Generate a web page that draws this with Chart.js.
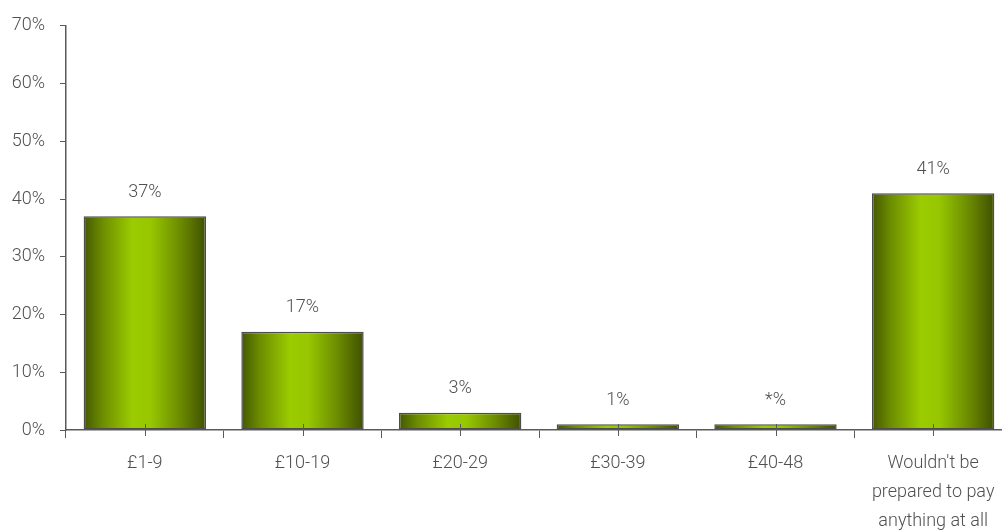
<!DOCTYPE html>
<html>
<head>
<meta charset="utf-8">
<script src="https://cdn.jsdelivr.net/npm/chart.js@4"></script>
<style>
  html, body { margin: 0; padding: 0; background: #fff; overflow: hidden; }
  #wrap { position: relative; width: 1012px; height: 532px; }
</style>
</head>
<body>
<div id="wrap"><canvas id="chart-canvas"></canvas></div>
<script>
// Importe dispuesto a pagar
const categories = ['£1-9', '£10-19', '£20-29', '£30-39', '£40-48', ["Wouldn't be", 'prepared to pay', 'anything at all']];
const values = [37, 17, 3, 1, 1, 41];
const valueLabels = ['37%', '17%', '3%', '1%', '*%', '41%'];
const yTicks = [0, 10, 20, 30, 40, 50, 60, 70];

const FONT = "Roboto, 'DejaVu Sans Condensed', sans-serif";
const AXIS = '#5a5a5a';
const TEXT = '#505050';
const BAR_PCT = 0.776;

// Degradado horizontal de cada barra: oscuro en los bordes, verde vivo en el centro
function barGradient(context) {
  const chart = context.chart;
  const x = chart.scales.x;
  if (!x || !chart.chartArea) return '#8fbf00';
  const cx = x.getPixelForValue(context.dataIndex);
  const w = (x.width / categories.length) * BAR_PCT;
  const g = chart.ctx.createLinearGradient(cx - w / 2, 0, cx + w / 2, 0);
  g.addColorStop(0, '#445800');
  g.addColorStop(0.15, '#6c8c00');
  g.addColorStop(0.4, '#9bcc00');
  g.addColorStop(0.55, '#96c700');
  g.addColorStop(0.8, '#6a8800');
  g.addColorStop(1, '#3f5000');
  return g;
}

// Etiquetas de valor encima de las barras y marcas centrales del eje X
const extras = {
  id: 'extras',
  afterDatasetsDraw(chart) {
    const ctx = chart.ctx;
    const meta = chart.getDatasetMeta(0);
    const y0 = chart.scales.y.getPixelForValue(0);
    ctx.save();
    ctx.font = '300 18px ' + FONT;
    ctx.fillStyle = TEXT;
    ctx.textAlign = 'center';
    ctx.textBaseline = 'middle';
    meta.data.forEach((bar, i) => {
      ctx.fillText(valueLabels[i], bar.x, bar.y - 24);
    });
    ctx.strokeStyle = AXIS;
    ctx.lineWidth = 1;
    meta.data.forEach(bar => {
      const px = Math.round(bar.x) + 0.5;
      ctx.beginPath();
      ctx.moveTo(px, y0 - 6);
      ctx.lineTo(px, y0 + 6);
      ctx.stroke();
    });
    ctx.restore();
  }
};

new Chart(document.getElementById('chart-canvas'), {
  type: 'bar',
  data: {
    labels: categories,
    datasets: [{
      data: values,
      backgroundColor: barGradient,
      borderColor: '#4d4d4d',
      borderWidth: 1.5,
      borderSkipped: false,
      categoryPercentage: 1,
      barPercentage: BAR_PCT
    }]
  },
  options: {
    responsive: true,
    maintainAspectRatio: false,
    animation: false,
    layout: { padding: { top: 21, right: 0, left: 0, bottom: 0 } },
    plugins: { legend: { display: false }, tooltip: { enabled: false } },
    scales: {
      x: {
        grid: { display: true, offset: true, drawOnChartArea: false, color: AXIS, tickLength: 8 },
        border: { color: AXIS, width: 1.5 },
        ticks: { color: TEXT, font: { family: FONT, size: 18, weight: 300, lineHeight: 1.6 }, padding: 11, maxRotation: 0, autoSkip: false },
        afterFit(scale) { scale.height = 102; }
      },
      y: {
        min: 0,
        max: 70,
        afterBuildTicks(scale) { scale.ticks = yTicks.map(v => ({ value: v })); },
        grid: { drawOnChartArea: false, color: AXIS, tickLength: 6 },
        border: { color: AXIS, width: 1.5 },
        ticks: { color: TEXT, font: { family: FONT, size: 18, weight: 300 }, padding: 15, callback: v => v + '%' },
        afterFit(scale) { scale.width = 66; }
      }
    }
  },
  plugins: [extras]
});
</script>
</body>
</html>
